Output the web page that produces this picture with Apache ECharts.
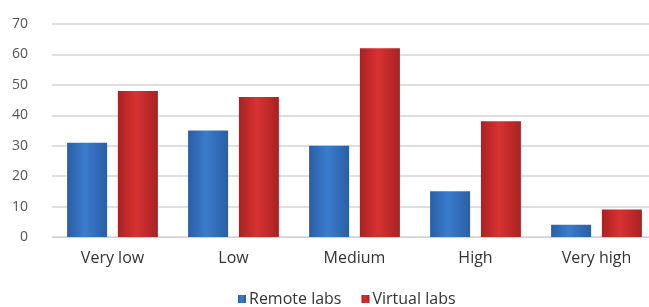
<!DOCTYPE html>
<html>
<head>
<meta charset="utf-8">
<script src="https://cdn.jsdelivr.net/npm/echarts@6/dist/echarts.min.js"></script>
<style>
	html, body { margin: 0; padding: 0; background: #fff; overflow: hidden; }
	#chart { width: 657px; height: 307px; }
</style>
</head>
<body>
<div id="chart"></div>
<script>
var categories = ['Very low', 'Low', 'Medium', 'High', 'Very high'];
var remoteLabs = [31, 35, 30, 15, 4];
var virtualLabs = [48, 46, 62, 38, 9];
var yTicks = { min: 0, max: 70, interval: 10 };

function barGradient(edge, mid) {
	return new echarts.graphic.LinearGradient(0, 0, 1, 0, [
		{ offset: 0, color: edge },
		{ offset: 0.45, color: mid },
		{ offset: 1, color: edge }
	]);
}

// chart box is a bit wider than the window: gridlines run off the right edge
var chart = echarts.init(document.getElementById('chart'));

chart.setOption({
	animation: false,
	grid: {
		left: 52,
		right: 0,
		top: 24,
		bottom: 70
	},
	legend: {
		top: 286,
		left: 233,
		itemWidth: 8,
		itemHeight: 8,
		itemGap: 20,
		icon: 'rect',
		textStyle: { fontFamily: 'Open Sans', fontSize: 16, color: '#333', padding: [0, 0, 0, -2] },
		data: ['Remote labs', 'Virtual labs']
	},
	xAxis: {
		type: 'category',
		data: categories,
		axisLine: { show: true, lineStyle: { color: '#d0d0d0' } },
		axisTick: { show: false },
		axisLabel: { fontFamily: 'Open Sans', fontSize: 16, color: '#333', margin: 13 }
	},
	yAxis: {
		type: 'value',
		min: yTicks.min,
		max: yTicks.max,
		interval: yTicks.interval,
		axisLine: { show: false },
		axisTick: { show: false },
		axisLabel: { fontFamily: 'Open Sans', fontSize: 14, color: '#555', margin: 24 },
		splitLine: { show: true, lineStyle: { color: '#d4d4d4', width: 1.5 } }
	},
	series: [
		{
			name: 'Remote labs',
			type: 'bar',
			data: remoteLabs,
			barWidth: 40,
			barGap: '27%',
			itemStyle: { color: barGradient('#2a5ea6', '#3a7ccc') }
		},
		{
			name: 'Virtual labs',
			type: 'bar',
			data: virtualLabs,
			barWidth: 40,
			itemStyle: { color: barGradient('#a82222', '#d83232') }
		}
	],
	color: ['#3568b5', '#c12a2a']
});
</script>
</body>
</html>
